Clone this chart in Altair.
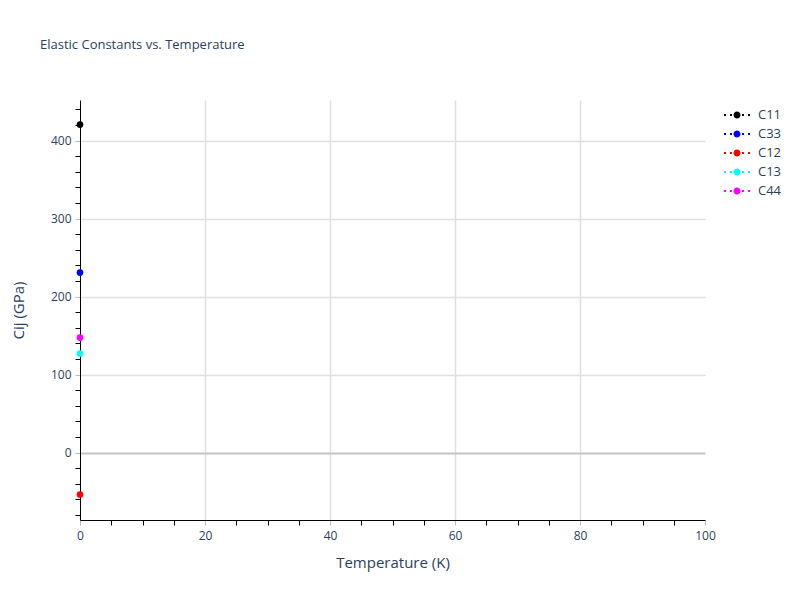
import altair as alt
import pandas as pd

series = ["C11", "C33", "C12", "C13", "C44"]
temperature = [0, 0, 0, 0, 0]
values = [420.5, 230.8, -53.8, 127.0, 147.4]
colors = ["#000000", "#0000ff", "#ff0000", "#00ffff", "#ff00ff"]

x_ticks = list(range(0, 101, 5))
y_ticks = list(range(-80, 441, 20))

df = pd.DataFrame({"T": temperature, "Cij": values, "series": series})

FONT = "Open Sans"
TXT = "#2a3f5f"

legend_path = (
    "M-1.857,-0.143H-1.571V0.143H-1.857Z "
    "M-1,-0.143H-0.714V0.143H-1Z "
    "M0.714,-0.143H1V0.143H0.714Z "
    "M1.571,-0.143H1.857V0.143H1.571Z "
    "M-0.5,0A0.5,0.5 0 1,0 0.5,0A0.5,0.5 0 1,0 -0.5,0Z"
)

x_axis = alt.Axis(
    values=x_ticks,
    labelExpr="datum.value % 20 === 0 ? datum.label : ''",
    labelFlush=False,
    gridOpacity={"condition": {"test": "datum.value % 20 === 0 && datum.value > 0 && datum.value < 100", "value": 1}, "value": 0},
    tickColor={"condition": {"test": "datum.value % 20 === 0", "value": "#bbbbbb"}, "value": "#000000"},
    tickSize=5,
    gridColor="#e0e0e0",
    gridWidth=1.5,
    domainColor="#000000",
    domainWidth=1,
    labelFont=FONT, labelFontSize=12, labelColor=TXT, labelPadding=5,
    titleFont=FONT, titleFontSize=15, titleColor=TXT, titleFontWeight="normal",
    titlePadding=14,
)

y_axis = alt.Axis(
    values=y_ticks,
    labelExpr="datum.value % 100 === 0 ? datum.label : ''",
    labelFlush=False,
    gridOpacity={"condition": {"test": "datum.value % 100 === 0", "value": 1}, "value": 0},
    gridColor={"condition": {"test": "datum.value === 0", "value": "#c4c4c4"}, "value": "#e0e0e0"},
    gridWidth={"condition": {"test": "datum.value === 0", "value": 2}, "value": 1.5},
    tickColor={"condition": {"test": "datum.value % 100 === 0", "value": "#bbbbbb"}, "value": "#000000"},
    tickSize=5,
    domainColor="#000000",
    domainWidth=1,
    labelFont=FONT, labelFontSize=12, labelColor=TXT, labelPadding=4,
    titleFont=FONT, titleFontSize=15, titleColor=TXT, titleFontWeight="normal",
    titlePadding=24,
)

chart = alt.Chart(df).mark_point(filled=True, size=45, opacity=1, clip=False).encode(
    x=alt.X("T:Q", title="Temperature (K)", scale=alt.Scale(domain=[0, 100], nice=False, zero=False), axis=x_axis),
    y=alt.Y("Cij:Q", title="Cij (GPa)", scale=alt.Scale(domain=[-86.5, 452], nice=False, zero=False), axis=y_axis),
    color=alt.Color(
        "series:N",
        scale=alt.Scale(domain=series, range=colors),
        legend=alt.Legend(
            title=None,
            orient="none",
            legendX=650,
            legendY=8,
            symbolType=legend_path,
            symbolSize=196,
            symbolStrokeWidth=0,
            symbolOpacity=1,
            labelOffset=14,
            rowPadding=5,
            padding=0,
            labelFont=FONT,
            labelFontSize=13,
            labelColor=TXT,
        ),
    ),
).properties(
    width=625,
    height=420,
    background="white",
    title=alt.TitleParams(
        "Elastic Constants vs. Temperature",
        anchor="start",
        frame="group",
        dx=-40,
        offset=48,
        font=FONT,
        fontSize=13,
        fontWeight="normal",
        color=TXT,
    ),
    autosize=alt.AutoSizeParams(type="none"),
    padding={"left": 72, "top": 92, "right": 87, "bottom": 72},
).configure_view(strokeWidth=0, strokeOpacity=0)

chart.save("out.html", embed_options={"renderer": "svg", "actions": False})
